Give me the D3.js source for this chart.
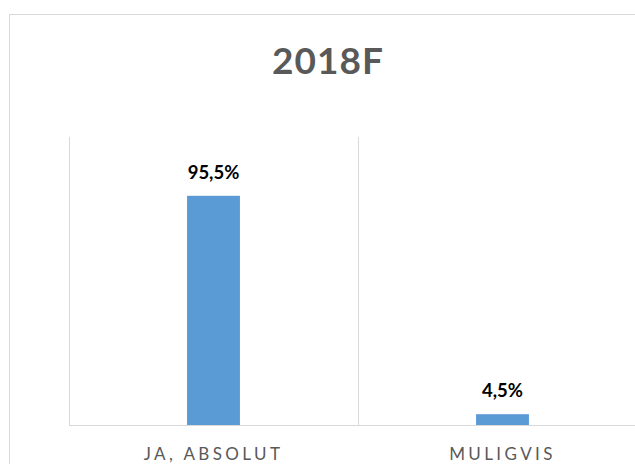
<!DOCTYPE html>
<html lang="en">
<head>
    <meta charset="UTF-8">
    <title>2018F</title>
    <script src="https://d3js.org/d3.v7.min.js"></script>
    <style>
        body { margin: 0; background: #fff; overflow: hidden; }
        svg { display: block; font-family: Lato, "Open Sans", sans-serif; }
    </style>
</head>
<body>
    <svg id="chart" width="635" height="464"></svg>
    <script>
        const title = '2018F';
        const categories = ['JA, ABSOLUT', 'MULIGVIS'];
        const values = [95.5, 4.5];

        const svg = d3.select('#chart');
        const margin = { left: 69, top: 137, bottom: 425, right: 647 };

        // chart frame (runs off the right and bottom edges)
        svg.append('rect')
            .attr('x', 9.5).attr('y', 14.5)
            .attr('width', 700).attr('height', 500)
            .attr('fill', '#fff')
            .attr('stroke', '#d9d9d9');

        svg.append('text')
            .attr('x', 328).attr('y', 74)
            .attr('text-anchor', 'middle')
            .attr('font-size', 37)
            .attr('font-weight', 'bold')
            .attr('letter-spacing', 1)
            .attr('fill', '#595959')
            .text(title);

        const x = d3.scaleBand()
            .domain(categories)
            .range([margin.left, margin.right]);

        const y = d3.scaleLinear()
            .domain([0, 120])
            .range([margin.bottom, margin.top]);

        // category separators
        const edges = categories.map(c => x(c)).concat([margin.right]);
        svg.append('g')
            .selectAll('line')
            .data(edges)
            .join('line')
            .attr('x1', d => d + 0.5).attr('x2', d => d + 0.5)
            .attr('y1', margin.top).attr('y2', margin.bottom)
            .attr('stroke', '#d9d9d9');

        svg.append('line')
            .attr('x1', margin.left).attr('x2', margin.right)
            .attr('y1', margin.bottom + 0.5).attr('y2', margin.bottom + 0.5)
            .attr('stroke', '#d9d9d9');

        const barW = x.bandwidth() * 0.183;

        svg.append('g')
            .selectAll('rect')
            .data(values)
            .join('rect')
            .attr('x', (d, i) => x(categories[i]) + x.bandwidth() / 2 - barW / 2)
            .attr('y', d => y(d))
            .attr('width', barW)
            .attr('height', d => y(0) - y(d))
            .attr('fill', '#5b9bd5');

        svg.append('g')
            .selectAll('text')
            .data(values)
            .join('text')
            .attr('x', (d, i) => x(categories[i]) + x.bandwidth() / 2)
            .attr('y', d => y(d) - 17)
            .attr('text-anchor', 'middle')
            .attr('font-size', 18.5)
            .attr('font-weight', 'bold')
            .attr('fill', '#000')
            .text(d => d3.format('.1f')(d).replace('.', ',') + '%');

        svg.append('g')
            .selectAll('text')
            .data(categories)
            .join('text')
            .attr('x', d => x(d) + x.bandwidth() / 2)
            .attr('y', 460)
            .attr('text-anchor', 'middle')
            .attr('font-size', 17)
            .attr('letter-spacing', 3.4)
            .attr('fill', '#595959')
            .text(d => d);
    </script>
</body>
</html>
